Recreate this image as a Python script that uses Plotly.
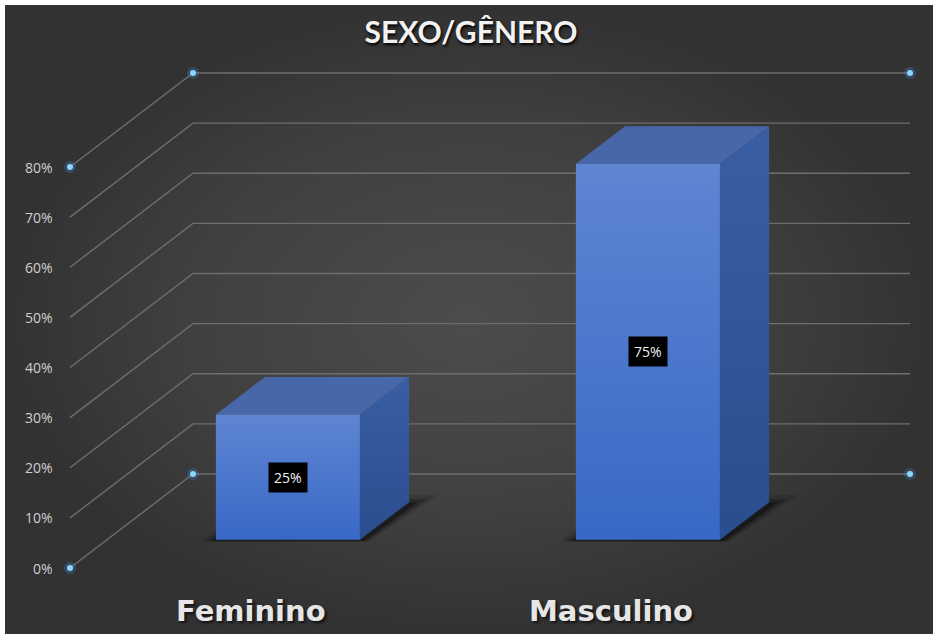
import plotly.graph_objects as go

# data
categories = ["Feminino", "Masculino"]
values = [25, 75]
value_labels = ["25%", "75%"]
tick_values = [0, 10, 20, 30, 40, 50, 60, 70, 80]
tick_labels = ["0%", "10%", "20%", "30%", "40%", "50%", "60%", "70%", "80%"]

# figure size / panel margins
W, H = 935, 635
ML, MR, MT, MB = 5, 2, 5, 1

# pixel mapping of the front plane (x in category units, y in percent)
X0, XU = 251.0, 360.0
Y0, YU = 568.0, 5.0125
# oblique depth offset (pixels for a full depth of 1)
DXP, DYP = 123.0, 94.0
DX, DY = DXP / XU, DYP / YU

# wall extents (front-plane x units)
XL = (70 - X0) / XU
XR = (787 - X0) / XU

# bar box geometry
HALF_W = 0.2
D_FRONT, D_BACK = 0.3, 0.7


def proj(x, d, p):
    return x + d * DX, p + d * DY


def poly(pts):
    xs = [q[0] for q in pts] + [pts[0][0]]
    ys = [q[1] for q in pts] + [pts[0][1]]
    return xs, ys


x_range = [(ML - X0) / XU, (W - MR - X0) / XU]
y_range = [(Y0 - (H - MB)) / YU, (Y0 - MT) / YU]

fig = go.Figure()

# background panel with radial shading
fig.add_trace(
    go.Scatter(
        x=[x_range[0], x_range[1], x_range[1], x_range[0], x_range[0]],
        y=[y_range[0], y_range[0], y_range[1], y_range[1], y_range[0]],
        mode="lines",
        line=dict(width=0),
        fill="toself",
        fillgradient=dict(
            type="radial",
            colorscale=[[0, "#4c4c4c"], [0.6, "#404040"], [1, "#323232"]],
        ),
        hoverinfo="skip",
        showlegend=False,
    )
)

# gridlines: left-wall diagonals + back-wall horizontals
grid_x, grid_y = [], []
for t in tick_values:
    a = proj(XL, 0, t)
    b = proj(XL, 1, t)
    c = proj(XR, 1, t)
    grid_x += [a[0], b[0], c[0], None]
    grid_y += [a[1], b[1], c[1], None]

fig.add_trace(
    go.Scatter(
        x=grid_x, y=grid_y, mode="lines",
        line=dict(color="#6e6e6e", width=1.4),
        hoverinfo="skip", showlegend=False,
    )
)

# corner handles
lo, hi = tick_values[0], tick_values[-1]
corners = [proj(XL, 0, lo), proj(XL, 0, hi), proj(XL, 1, lo),
           proj(XL, 1, hi), proj(XR, 1, lo), proj(XR, 1, hi)]
cx = [c[0] for c in corners]
cy = [c[1] for c in corners]
fig.add_trace(
    go.Scatter(
        x=cx, y=cy, mode="markers",
        marker=dict(size=12, color="rgba(70,160,255,0.22)", line=dict(width=0)),
        hoverinfo="skip", showlegend=False,
    )
)
fig.add_trace(
    go.Scatter(
        x=cx, y=cy, mode="markers",
        marker=dict(size=6, color="#8ad6ff", line=dict(width=0)),
        hoverinfo="skip", showlegend=False,
    )
)

# bars drawn as 3D boxes
for i, v in enumerate(values):
    xl, xr = i - HALF_W, i + HALF_W

    # soft shadow on the floor
    for gx, gd, alpha in [(0.045, 0.10, 0.16), (0.03, 0.06, 0.28), (0.015, 0.03, 0.45)]:
        sx, sy = poly([
            proj(xl - gx, D_FRONT + 0.01, -0.5),
            proj(xr + gx * 0.5, D_FRONT + 0.01, -0.5),
            proj(xr + gx, D_BACK + gd, -0.5),
            proj(xl - gx, D_BACK + gd, -0.5),
        ])
        fig.add_trace(
            go.Scatter(
                x=sx, y=sy, mode="lines", line=dict(width=0),
                fill="toself", fillcolor=f"rgba(12,12,12,{alpha})",
                hoverinfo="skip", showlegend=False,
            )
        )

    # side face
    sx, sy = poly([
        proj(xr, D_FRONT, 0), proj(xr, D_BACK, 0),
        proj(xr, D_BACK, v), proj(xr, D_FRONT, v),
    ])
    fig.add_trace(
        go.Scatter(
            x=sx, y=sy, mode="lines", line=dict(width=0),
            fill="toself",
            fillgradient=dict(type="vertical",
                              colorscale=[[0, "#2a4d8f"], [1, "#3a5ea3"]]),
            hoverinfo="skip", showlegend=False,
        )
    )

    # top face
    sx, sy = poly([
        proj(xl, D_FRONT, v), proj(xr, D_FRONT, v),
        proj(xr, D_BACK, v), proj(xl, D_BACK, v),
    ])
    fig.add_trace(
        go.Scatter(
            x=sx, y=sy, mode="lines", line=dict(width=0),
            fill="toself", fillcolor="#4867a8",
            hoverinfo="skip", showlegend=False,
        )
    )

    # front face
    sx, sy = poly([
        proj(xl, D_FRONT, 0), proj(xr, D_FRONT, 0),
        proj(xr, D_FRONT, v), proj(xl, D_FRONT, v),
    ])
    fig.add_trace(
        go.Scatter(
            x=sx, y=sy, mode="lines", line=dict(width=0),
            fill="toself",
            fillgradient=dict(type="vertical",
                              colorscale=[[0, "#3868c6"], [1, "#5f85d2"]]),
            hoverinfo="skip", showlegend=False,
            name=categories[i],
        )
    )

annotations = []

# data labels
for i, v in enumerate(values):
    lx, ly = proj(i, D_FRONT, v / 2)
    annotations.append(dict(
        x=lx, y=ly, xref="x", yref="y", text=value_labels[i],
        showarrow=False, bgcolor="#000000", borderpad=5,
        font=dict(family="Open Sans", size=14, color="#f2f2f2"),
    ))

# category labels
for i, name in enumerate(categories):
    annotations.append(dict(
        x=i, y=0, xref="x", yref="y", text=name, yshift=-43,
        showarrow=False, yanchor="middle",
        font=dict(family="DejaVu Sans", size=29, color="#e6e6e6",
                  weight="bold", shadow="2px 2px 3px #111111"),
    ))

# value axis labels on the front wall
for t, lab in zip(tick_values, tick_labels):
    annotations.append(dict(
        x=XL, y=t, xref="x", yref="y", text=lab, xanchor="right",
        xshift=-15, showarrow=False,
        font=dict(family="Open Sans", size=14, color="#cfcfcf"),
    ))

fig.update_layout(
    width=W, height=H,
    margin=dict(l=ML, r=MR, t=MT, b=MB),
    paper_bgcolor="#ffffff",
    plot_bgcolor="#3c3c3c",
    title=dict(
        text="SEXO/GÊNERO", x=471 / W, y=1 - 32 / H,
        xanchor="center", yanchor="middle",
        font=dict(family="Lato", size=30, color="#f2f2f2",
                  weight="bold", shadow="1px 2px 3px #000000"),
    ),
    xaxis=dict(range=x_range, visible=False, fixedrange=True),
    yaxis=dict(range=y_range, visible=False, fixedrange=True),
    annotations=annotations,
    showlegend=False,
)

fig.write_html(
    "out.html",
    config={"displayModeBar": False},
    post_script="document.body.style.margin='0';",
)
